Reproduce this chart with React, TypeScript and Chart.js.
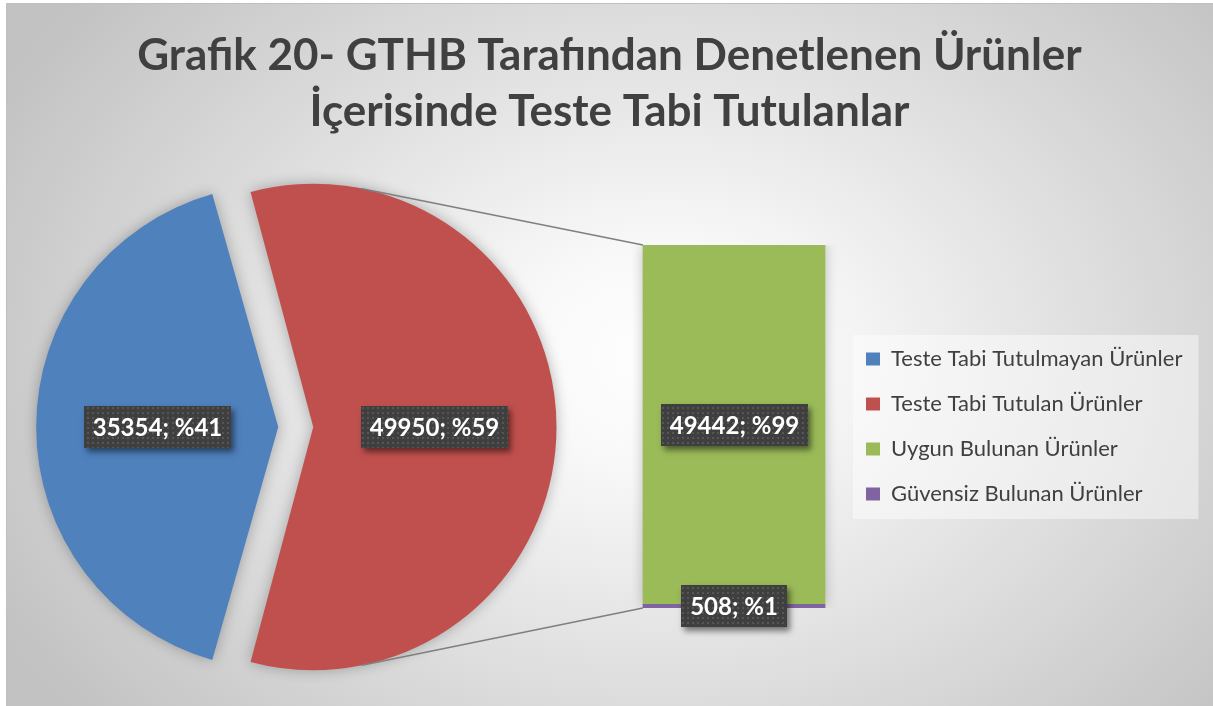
import React, { useEffect, useRef } from 'react';
import { Chart, registerables } from 'chart.js';

Chart.register(...registerables);

const W = 1213;
const H = 706;

const TITLE_LINES = ['Grafik 20- GTHB Tarafından Denetlenen Ürünler', 'İçerisinde Teste Tabi Tutulanlar'];
const PIE_LABELS = ['Teste Tabi Tutulmayan Ürünler', 'Teste Tabi Tutulan Ürünler'];
const PIE_VALUES = [35354, 49950];
const PIE_COLORS = ['#4f81bd', '#c0504d'];
const BAR_LABELS = ['Uygun Bulunan Ürünler', 'Güvensiz Bulunan Ürünler'];
const BAR_VALUES = [49442, 508];
const BAR_COLORS = ['#9bbb59', '#8064a2'];

const FONT = 'Lato';
const TEXT_COLOR = '#404040';
const LEGEND_SIZE = 22;
const LEGEND_PAD = 23;
const LEGEND_BOX = 14;

const sum = (arr: number[]) => arr.reduce((a, b) => a + b, 0);
const labelText = (v: number, total: number) => `${v}; %${Math.round((v / total) * 100)}`;

function makePattern(ctx: CanvasRenderingContext2D) {
  const c = document.createElement('canvas');
  c.width = 5;
  c.height = 5;
  const g = c.getContext('2d') as CanvasRenderingContext2D;
  g.fillStyle = 'rgba(255,255,255,0.12)';
  g.fillRect(2, 2, 2, 2);
  return ctx.createPattern(c, 'repeat');
}

function drawDataLabel(ctx: CanvasRenderingContext2D, text: string, cx: number, cy: number) {
  ctx.save();
  ctx.font = `bold 24px ${FONT}`;
  const tw = ctx.measureText(text).width;
  const w = Math.round(tw + 18);
  const h = 42;
  const x = Math.round(cx - w / 2);
  const y = Math.round(cy - h / 2);
  ctx.shadowColor = 'rgba(0,0,0,0.5)';
  ctx.shadowBlur = 6;
  ctx.shadowOffsetX = 3;
  ctx.shadowOffsetY = 4;
  ctx.fillStyle = '#3f3f3f';
  ctx.fillRect(x, y, w, h);
  ctx.shadowColor = 'rgba(0,0,0,0)';
  const pat = makePattern(ctx);
  if (pat) {
    ctx.fillStyle = pat;
    ctx.fillRect(x, y, w, h);
  }
  ctx.fillStyle = '#ffffff';
  ctx.textAlign = 'center';
  ctx.textBaseline = 'middle';
  ctx.fillText(text, x + w / 2, y + h / 2 + 1);
  ctx.restore();
}

function arcGeom(arc: any) {
  const p = arc.getProps(['x', 'y', 'startAngle', 'endAngle', 'outerRadius', 'circumference'], true);
  const off = (arc.options.offset || 0) / 4;
  const half = (p.startAngle + p.endAngle) / 2;
  const fix = 1 - Math.sin(Math.min(Math.PI, p.circumference || 0));
  return {
    cx: p.x + Math.cos(half) * off,
    cy: p.y + Math.sin(half) * off,
    r: p.outerRadius + off * fix,
    half,
  };
}

const pieDecor = {
  id: 'pieDecor',
  beforeDatasetsDraw(chart: any) {
    const ctx = chart.ctx;
    ctx.save();
    ctx.shadowColor = 'rgba(0,0,0,0.28)';
    ctx.shadowBlur = 14;
  },
  afterDatasetsDraw(chart: any) {
    const ctx = chart.ctx;
    ctx.restore();
    const meta = chart.getDatasetMeta(0);
    const data = chart.data.datasets[0].data as number[];
    const total = sum(data);
    meta.data.forEach((arc: any, i: number) => {
      const g = arcGeom(arc);
      drawDataLabel(
        ctx,
        labelText(data[i], total),
        g.cx + (Math.cos(g.half) * g.r) / 2,
        g.cy + (Math.sin(g.half) * g.r) / 2
      );
    });
  },
};

function makeBarDecor(pieChart: any, greenIndex: number) {
  return {
    id: 'barDecor',
    beforeDraw(chart: any) {
      const lg = chart.legend;
      const hb = lg.legendHitBoxes;
      if (!hb || !hb.length) return;
      const ctx = chart.ctx;
      const left = hb[0].left - 13;
      const top = hb[0].top - 13;
      const right = Math.max(...hb.map((h: any) => h.left + h.width)) + 16;
      const last = hb[hb.length - 1];
      const bottom = last.top + last.height + 14;
      ctx.save();
      ctx.fillStyle = 'rgba(255,255,255,0.45)';
      ctx.fillRect(left, top, right - left, bottom - top);
      ctx.restore();
    },
    beforeDatasetsDraw(chart: any) {
      const ctx = chart.ctx;
      const arc = pieChart.getDatasetMeta(0).data[1];
      if (!arc) return;
      const g = arcGeom(arc);
      let topY = Infinity;
      let bottomY = -Infinity;
      let leftX = Infinity;
      chart.data.datasets.forEach((_: any, di: number) => {
        chart.getDatasetMeta(di).data.forEach((el: any) => {
          topY = Math.min(topY, el.y, el.base);
          bottomY = Math.max(bottomY, el.y, el.base);
          leftX = Math.min(leftX, el.x - el.width / 2);
        });
      });
      const tangent = (px: number, py: number, sign: number) => {
        const dx = px - g.cx;
        const dy = py - g.cy;
        const d = Math.sqrt(dx * dx + dy * dy);
        const phi = Math.atan2(dy, dx);
        const a = Math.acos(g.r / d);
        const ang = phi + sign * a;
        return [g.cx + g.r * Math.cos(ang), g.cy + g.r * Math.sin(ang)];
      };
      const t1 = tangent(leftX, topY, -1);
      const t2 = tangent(leftX, bottomY, 1);
      ctx.save();
      ctx.strokeStyle = '#7f7f7f';
      ctx.lineWidth = 1.5;
      ctx.beginPath();
      ctx.moveTo(t1[0], t1[1]);
      ctx.lineTo(leftX, topY);
      ctx.moveTo(t2[0], t2[1]);
      ctx.lineTo(leftX, bottomY);
      ctx.stroke();
      ctx.restore();
    },
    beforeDatasetDraw(chart: any, args: any) {
      if (args.index === greenIndex) {
        const ctx = chart.ctx;
        ctx.save();
        ctx.shadowColor = 'rgba(0,0,0,0.25)';
        ctx.shadowBlur = 12;
      }
    },
    afterDatasetDraw(chart: any, args: any) {
      if (args.index === greenIndex) chart.ctx.restore();
    },
    afterDraw(chart: any) {
      const ctx = chart.ctx;
      const total = sum(chart.data.datasets.map((d: any) => d.data[0] as number));
      chart.data.datasets.forEach((ds: any, di: number) => {
        chart.getDatasetMeta(di).data.forEach((el: any, j: number) => {
          const c = el.getCenterPoint();
          drawDataLabel(ctx, labelText(ds.data[j], total), c.x, c.y);
        });
      });
    },
  };
}

export default function App() {
  const refA = useRef<HTMLCanvasElement>(null);
  const refB = useRef<HTMLCanvasElement>(null);

  useEffect(() => {
    if (!refA.current || !refB.current) return;
    const pieTotal = sum(PIE_VALUES);
    const rotation = 270 - (180 * PIE_VALUES[0]) / pieTotal;

    const pie = new Chart(refA.current, {
      type: 'pie',
      data: {
        labels: PIE_LABELS,
        datasets: [
          {
            data: PIE_VALUES,
            backgroundColor: PIE_COLORS,
            borderWidth: 0,
            offset: [91, 49],
            radius: 231,
            rotation,
          } as any,
        ],
      },
      options: {
        animation: false,
        responsive: false,
        devicePixelRatio: 1,
        events: [],
        layout: { padding: { left: 20, right: 631, top: 157, bottom: 9 } },
        plugins: {
          legend: { display: false },
          title: { display: false },
          tooltip: { enabled: false },
        },
      },
      plugins: [pieDecor],
    });

    const order = BAR_VALUES.map((_, i) => i).reverse();
    const greenIndex = order.indexOf(0);
    const barTotal = sum(BAR_VALUES);

    const legendTexts = [...PIE_LABELS, ...BAR_LABELS];
    const legendColors = [...PIE_COLORS, ...BAR_COLORS];
    const legendItems = legendTexts.map((t, i) => ({
      text: t,
      fillStyle: legendColors[i],
      strokeStyle: legendColors[i],
      lineWidth: 0,
      hidden: false,
      fontColor: TEXT_COLOR,
    }));

    // measure legend so its natural width places the items where wanted
    const mctx = document.createElement('canvas').getContext('2d') as CanvasRenderingContext2D;
    mctx.font = `normal ${LEGEND_SIZE}px ${FONT}`;
    const tw = Math.max(...legendTexts.map((t) => mctx.measureText(t).width));
    const legendW = LEGEND_PAD + LEGEND_BOX + LEGEND_SIZE / 2 + tw + 10;
    const legendLeft = 866 - LEGEND_PAD;
    const padRight = Math.max(0, W - (legendLeft + legendW));
    const padLeft = padRight + 6;
    const areaLeft = 2 * 734 - legendLeft;
    const axisW = areaLeft - padLeft;

    const bar = new Chart(refB.current, {
      type: 'bar',
      data: {
        labels: [PIE_LABELS[1]],
        datasets: order.map((i) => ({
          label: BAR_LABELS[i],
          data: [BAR_VALUES[i]],
          backgroundColor: BAR_COLORS[i],
          borderWidth: 0,
          barThickness: 182,
        })),
      },
      options: {
        animation: false,
        responsive: false,
        devicePixelRatio: 1,
        events: [],
        layout: { padding: { left: padLeft, right: padRight, top: 0, bottom: 98 } },
        scales: {
          x: { display: false, stacked: true },
          y: {
            display: true,
            stacked: true,
            min: 0,
            max: barTotal,
            position: 'left',
            grid: { display: false },
            border: { display: false },
            ticks: { display: false },
            afterFit: (s: any) => {
              s.width = axisW;
            },
          },
        },
        plugins: {
          title: {
            display: true,
            text: TITLE_LINES,
            color: TEXT_COLOR,
            font: { family: FONT, size: 44, weight: 'bold', lineHeight: 56 / 44 },
            padding: { top: 28, bottom: 105 },
          },
          legend: {
            display: true,
            position: 'right',
            align: 'center',
            fullSize: false,
            maxWidth: 1000,
            labels: {
              boxWidth: LEGEND_BOX,
              boxHeight: 13,
              padding: LEGEND_PAD,
              color: TEXT_COLOR,
              font: { family: FONT, size: LEGEND_SIZE },
              generateLabels: () => legendItems as any,
            },
          },
          tooltip: { enabled: false },
        },
      },
      plugins: [makeBarDecor(pie, greenIndex)],
    });

    return () => {
      bar.destroy();
      pie.destroy();
    };
  }, []);

  return (
    <div
      style={{
        position: 'fixed',
        left: 0,
        top: 0,
        width: W,
        height: H,
        overflow: 'hidden',
        background: '#ffffff',
      }}
    >
      <div
        style={{
          position: 'absolute',
          left: 6,
          top: 3,
          width: W,
          height: H,
          border: '1px solid #bfbfbf',
          background:
            'radial-gradient(ellipse 62% 80% at 54% 50%, #ffffff 0%, #f8f8f8 20%, #c2c2c2 100%)',
        }}
      />
      <canvas
        ref={refA}
        width={W}
        height={H}
        style={{ position: 'absolute', left: 0, top: 0, width: W, height: H }}
      />
      <canvas
        ref={refB}
        width={W}
        height={H}
        style={{ position: 'absolute', left: 0, top: 0, width: W, height: H }}
      />
    </div>
  );
}
